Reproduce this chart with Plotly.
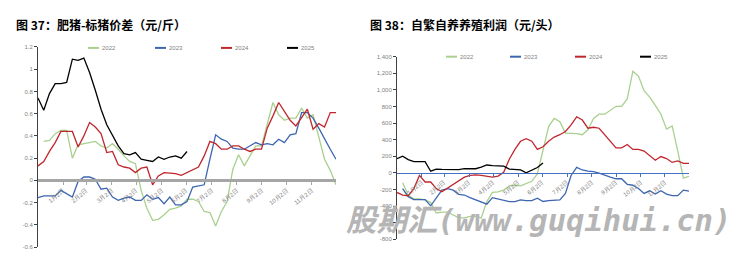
import pandas as pd
import plotly.graph_objects as go

# ---------------- data ----------------
weeks = pd.date_range("2023-01-02", periods=53, freq="7D")
month_ticks = pd.date_range("2023-01-02", periods=12, freq="MS") + pd.Timedelta(days=1)
month_labels = [f"{m}月2日" for m in range(1, 13)]
series_names = ["2022", "2023", "2024", "2025"]
colors = ["#a9d08e", "#3d65b0", "#c0272d", "#000000"]

N = None
# 图37 肥猪-标猪价差 (元/斤)
spread_2022 = [N, 0.35, 0.36, 0.42, 0.45, 0.45, 0.20, 0.32, 0.33, 0.34, 0.35, 0.31, 0.29, 0.33, 0.28,
               0.22, 0.17, 0.15, -0.09, -0.25, -0.36, -0.35, -0.31, -0.26, -0.25, -0.23, -0.17, -0.17,
               -0.19, -0.28, -0.29, -0.41, -0.28, -0.19, 0.10, 0.23, 0.13, 0.22, 0.31, 0.31, 0.51, 0.70,
               0.59, 0.54, 0.56, 0.56, 0.65, 0.56, 0.59, 0.40, 0.19, 0.09, -0.04]
spread_2023 = [-0.155, -0.14, -0.14, -0.14, -0.09, -0.12, -0.15, -0.01, 0.03, 0.03, 0.01, -0.08, -0.07,
               -0.15, -0.18, -0.16, -0.15, -0.18, -0.18, -0.13, -0.17, -0.155, -0.21, -0.15, -0.22, -0.22,
               -0.19, -0.06, -0.05, -0.04, 0.19, 0.41, 0.37, 0.35, 0.29, 0.28, 0.28, 0.31, 0.34, 0.32, 0.33,
               0.32, 0.37, 0.34, 0.41, 0.42, 0.61, 0.61, 0.56, 0.47, 0.37, 0.28, 0.19]
spread_2024 = [0.13, 0.17, 0.26, 0.34, 0.44, 0.44, 0.44, 0.30, 0.40, 0.52, 0.48, 0.42, 0.25, 0.26, 0.14,
               0.12, 0.11, 0.07, 0.11, 0.12, -0.04, 0.04, 0.07, 0.065, 0.06, 0.045, 0.07, 0.09, 0.12, 0.22,
               0.35, 0.33, 0.28, 0.28, 0.31, 0.31, 0.28, 0.26, 0.28, 0.28, 0.47, 0.58, 0.70, 0.62, 0.54,
               0.49, 0.56, 0.64, 0.46, 0.51, 0.48, 0.61, 0.61]
spread_2025 = [0.74, 0.63, 0.78, 0.87, 0.87, 0.88, 1.09, 1.08, 1.10, 0.97, 0.81, 0.64, 0.50, 0.40, 0.31,
               0.24, 0.23, 0.25, 0.19, 0.18, 0.17, 0.21, 0.19, 0.21, 0.22, 0.20, 0.26]

# 图38 自繁自养养殖利润 (元/头)
profit_2022 = [N, -118, -267, -314, -314, -326, -358, -483, -472, -472, -503, -542, -542, -523, -523,
               -542, -346, -236, -228, -208, -157, -149, -157, -130, -102, -12, 260, 558, 656, 617, 479,
               479, 472, 460, 519, 656, 707, 707, 755, 802, 802, 892, 1226, 1167, 990, 912, 814, 707,
               527, 566, 263, -63, -43]
profit_2023 = [N, -189, -287, -322, -322, -322, -397, -299, -208, -189, -208, -259, -267, -299, -326,
               -354, -377, -299, -314, -334, -346, -346, -326, -334, -334, -306, -345, -334, -330, -326,
               -248, -31, 67, 35, 20, 16, -4, -31, -51, -71, -71, -138, -149, -189, -248, -216, -255,
               -216, -255, -275, -275, -208, -220]
profit_2024 = [-236, -267, -275, -189, -31, -110, -110, -189, -228, -181, -138, -90, -51, -31, -24, -31,
               -39, -51, -39, 8, 165, 283, 381, 413, 381, 283, 315, 381, 432, 460, 499, 578, 676, 637,
               538, 550, 538, 460, 381, 302, 302, 342, 283, 283, 263, 204, 153, 197, 173, 126, 145, 114,
               114]
profit_2025 = [170, 200, 160, 135, 135, 135, 20, 45, 42, 38, 35, 38, 50, 48, 50, 70, 95, 88, 85, 82, 45,
               38, 35, 0, 30, 65, 120]

left_yticks = [1.2, 1.0, 0.8, 0.6, 0.4, 0.2, 0, -0.2, -0.4, -0.6]
left_yticklabels = ["1.2", "1", "0.8", "0.6", "0.4", "0.2", "0", "-0.2", "-0.4", "-0.6"]
right_yticks = [1400, 1200, 1000, 800, 600, 400, 200, 0, -200, -400, -600, -800]
right_yticklabels = ["1,400", "1,200", "1,000", "800", "600", "400", "200", "0", "-200", "-400", "-600", "-800"]

title_left = "图 37：肥猪-标猪价差（元/斤）"
title_right = "图 38：自繁自养养殖利润（元/头）"
watermark = "股期汇(www.guqihui.cn)"

# ---------------- figure ----------------
W, H = 747, 253
fig = go.Figure()

left_data = [spread_2022, spread_2023, spread_2024, spread_2025]
right_data = [profit_2022, profit_2023, profit_2024, profit_2025]

for name, col, vals in zip(series_names, colors, left_data):
    fig.add_trace(go.Scatter(x=weeks[:len(vals)], y=vals, name=name, mode="lines",
                             line=dict(color=col, width=1.3), xaxis="x", yaxis="y",
                             showlegend=False, connectgaps=False))
for name, col, vals in zip(series_names, colors, right_data):
    fig.add_trace(go.Scatter(x=weeks[:len(vals)], y=vals, name=name, mode="lines",
                             line=dict(color=col, width=1.3), xaxis="x2", yaxis="y2",
                             showlegend=False, connectgaps=False))

def px_x(p):
    return p / W

def px_y(p):
    return (H - p) / H

tickfont = dict(family="Liberation Sans, Arial", size=6, color="#7f7f7f")
xrange = [weeks[0], weeks[-1]]

# panel geometry (pixels)
L_x0, L_x1, L_top, L_bot = 38, 336, 45, 250
R_x0, R_x1, R_top, R_bot = 397, 689, 55, 242

fig.update_layout(
    width=W, height=H,
    margin=dict(l=0, r=0, t=0, b=0),
    paper_bgcolor="white", plot_bgcolor="white",
    font=dict(family="Noto Sans CJK SC", color="#000"),
    showlegend=False,
    xaxis=dict(domain=[px_x(L_x0), px_x(L_x1)], range=xrange, anchor="free",
               position=px_y(L_bot) + (px_y(L_top) - px_y(L_bot)) * (0.6 / 1.8),
               showline=True, linecolor="#a6a6a6", linewidth=2.5, showgrid=False, zeroline=False,
               tickvals=month_ticks, ticktext=month_labels, tickangle=-38, tickfont=tickfont,
               ticks="outside", ticklen=3, tickcolor="#a6a6a6"),
    yaxis=dict(domain=[px_y(L_bot), px_y(L_top)], range=[-0.6, 1.2], anchor="x",
               showline=True, linecolor="#404040", linewidth=1, showgrid=False, zeroline=False,
               tickvals=left_yticks, ticktext=left_yticklabels, tickfont=tickfont,
               ticks="outside", ticklen=3, tickcolor="#404040"),
    xaxis2=dict(domain=[px_x(R_x0), px_x(R_x1)], range=xrange, anchor="free",
                position=px_y(R_bot) + (px_y(R_top) - px_y(R_bot)) * (800 / 2200),
                showline=True, linecolor="#4472c4", linewidth=1, showgrid=False, zeroline=False,
                tickvals=month_ticks, ticktext=month_labels, tickangle=-38, tickfont=tickfont,
                ticks="outside", ticklen=3, tickcolor="#4472c4"),
    yaxis2=dict(domain=[px_y(R_bot), px_y(R_top)], range=[-800, 1400], anchor="x2",
                showline=True, linecolor="#404040", linewidth=1, showgrid=False, zeroline=False,
                tickvals=right_yticks, ticktext=right_yticklabels, tickfont=tickfont,
                ticks="outside", ticklen=3, tickcolor="#404040"),
)

# legends (short line keys + labels)
legend_rows = [
    (46, [88, 155, 221, 287]),
    (55, [446, 510, 575, 640]),
]
for ly, xs in legend_rows:
    for name, col, lx in zip(series_names, colors, xs):
        fig.add_shape(type="line", xref="paper", yref="paper",
                      x0=px_x(lx), x1=px_x(lx + 11), y0=px_y(ly), y1=px_y(ly),
                      line=dict(color=col, width=2))
        fig.add_annotation(text=name, xref="paper", yref="paper", x=px_x(lx + 12), y=px_y(ly),
                           xanchor="left", yanchor="middle", showarrow=False,
                           font=dict(family="Liberation Sans", size=6, color="#7f7f7f"))

fig.add_annotation(text=f"<b>{title_left}</b>", xref="paper", yref="paper",
                   x=px_x(14), y=px_y(22), xanchor="left", yanchor="middle", showarrow=False,
                   font=dict(family="Noto Sans CJK SC", size=12, color="#000"))
fig.add_annotation(text=f"<b>{title_right}</b>", xref="paper", yref="paper",
                   x=px_x(368), y=px_y(22), xanchor="left", yanchor="middle", showarrow=False,
                   font=dict(family="Noto Sans CJK SC", size=12, color="#000"))
fig.add_annotation(text=f"<b><i>{watermark}</i></b>", xref="paper", yref="paper",
                   x=px_x(538), y=px_y(223), xanchor="center", yanchor="middle", showarrow=False,
                   font=dict(family="DejaVu Sans Mono, Noto Sans CJK SC", size=30.5,
                             color="#b5b5b5"))

fig.write_html("out.html")
